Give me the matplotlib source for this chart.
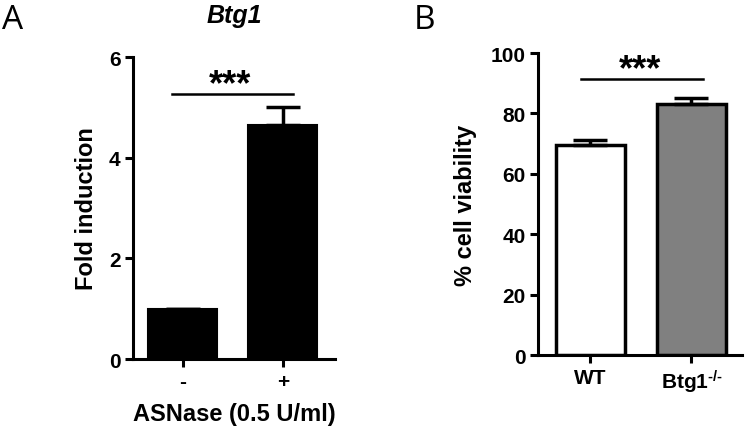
import matplotlib
matplotlib.use('Agg')
import matplotlib.pyplot as plt

plt.rcParams['font.family'] = ['Liberation Sans', 'DejaVu Sans']
plt.rcParams['font.weight'] = 'bold'
plt.rcParams['axes.labelweight'] = 'bold'
plt.rcParams['mathtext.fontset'] = 'custom'
plt.rcParams['mathtext.rm'] = 'Liberation Sans'
plt.rcParams['mathtext.default'] = 'regular'

# panel A data
a_labels = ['-', '+']
a_values = [1.0, 4.65]
a_errors = [0.0, 0.35]

# panel B data
b_labels = ['WT', r'Btg1$^{\text{-/-}}$']
b_values = [69.5, 83.1]
b_errors = [1.7, 2.0]
b_colors = ['white', '#808080']

fig = plt.figure(figsize=(7.45, 4.31), dpi=100)
axA = fig.add_axes([0.1785, 0.1647, 0.2711, 0.7007])
axB = fig.add_axes([0.7221, 0.174, 0.2738, 0.7007])

lw = 2.2
for ax in (axA, axB):
    for s in ['top', 'right']:
        ax.spines[s].set_visible(False)
    for s in ['left', 'bottom']:
        ax.spines[s].set_linewidth(lw)
    ax.tick_params(width=lw, length=5.5, labelsize=15)

# Panel A
xa = range(len(a_values))
axA.bar(xa, a_values, width=0.69, color='black', edgecolor='black', linewidth=1.5)
axA.errorbar(xa, a_values, yerr=[[0, 0], a_errors], fmt='none', ecolor='black',
             elinewidth=2.5, capsize=12, capthick=2.5)
axA.set_xlim(-0.5, 1.52)
axA.set_ylim(0, 6)
axA.set_yticks([0, 2, 4, 6])
axA.set_xticks(list(xa))
axA.set_xticklabels(a_labels, fontsize=15)
axA.set_ylabel('Fold induction', fontsize=17, labelpad=8)
axA.set_xlabel('ASNase (0.5 U/ml)', fontsize=17, labelpad=8)
axA.plot([-0.11, 1.1], [5.27, 5.27], color='black', lw=1.8)
axA.text(0.47, 5.27, '***', fontsize=26, ha='center', va='baseline')
axA.text(0.5, 1.14, 'Btg1', fontsize=18, style='italic', ha='center', va='center',
         transform=axA.transAxes)

# Panel B
xb = range(len(b_values))
axB.bar(xb, b_values, width=0.69, color=b_colors, edgecolor='black', linewidth=2.5)
axB.errorbar(xb, b_values, yerr=[[0, 0], b_errors], fmt='none', ecolor='black',
             elinewidth=2.5, capsize=12, capthick=2.5)
axB.set_xlim(-0.52, 1.5)
axB.set_ylim(0, 100)
axB.set_yticks([0, 20, 40, 60, 80, 100])
axB.set_xticks(list(xb))
axB.set_xticklabels(b_labels, fontsize=15)
axB.set_ylabel('% cell viability', fontsize=17, labelpad=10)
axB.plot([-0.09, 1.11], [91.4, 91.4], color='black', lw=1.8)
axB.text(0.49, 91.4, '***', fontsize=26, ha='center', va='baseline')

fig.text(0.003, 0.99, 'A', fontsize=24, fontweight='normal', family='Open Sans',
         ha='left', va='top')
fig.text(0.555, 0.99, 'B', fontsize=24, fontweight='normal', family='Open Sans',
         ha='left', va='top')

fig.savefig('out.png', dpi=100)
